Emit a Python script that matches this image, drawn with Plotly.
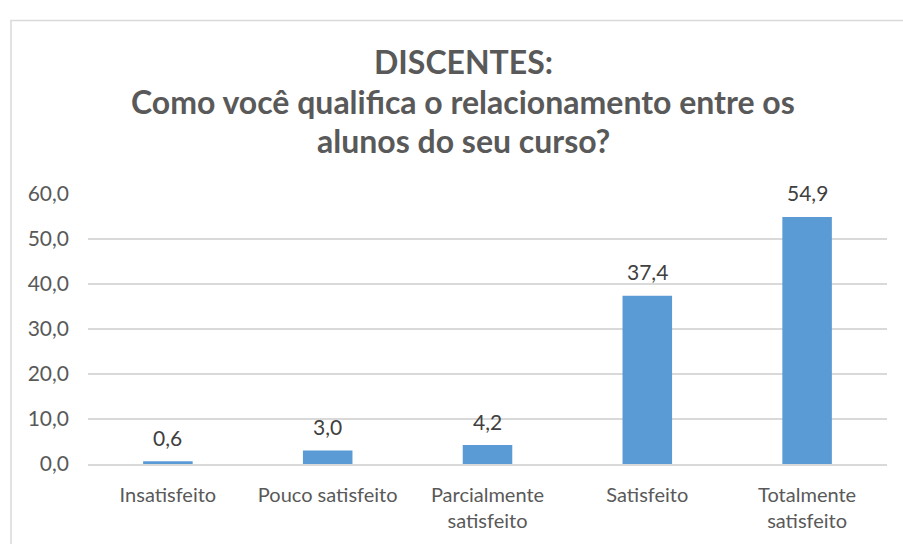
import plotly.graph_objects as go

categories = ["Insatisfeito", "Pouco satisfeito", "Parcialmente<br>satisfeito", "Satisfeito", "Totalmente<br>satisfeito"]
values = [0.6, 3.0, 4.2, 37.4, 54.9]
title_lines = ["DISCENTES:", "Como você qualifica o relacionamento entre os", "alunos do seu curso?"]
tick_vals = [0, 10, 20, 30, 40, 50, 60]

W, H = 903, 544
L, R, T, B = 88, 16, 194, 73
pw, ph = W - L - R, H - T - B

def px_x(x):
    return (x - L) / pw

def px_y(y):
    return (H - B - y) / ph

FONT = "Lato"
GRAY = "#595959"

fig = go.Figure()
fig.add_trace(go.Bar(
    x=categories, y=values,
    marker=dict(color="#5B9BD5", line=dict(width=0)),
    width=0.31,
    hoverinfo="skip",
))

for c, v in zip(categories, values):
    fig.add_annotation(
        x=c, y=v, xref="x", yref="y",
        text=f"{v:.1f}".replace(".", ","),
        showarrow=False, yanchor="middle", yshift=24,
        font=dict(family=FONT, size=21, color="#404040"),
    )

title_y = [58, 99, 139]
for t, yy in zip(title_lines, title_y):
    fig.add_annotation(
        x=px_x(463), y=px_y(yy), xref="paper", yref="paper",
        text=f"<b>{t}</b>", showarrow=False,
        xanchor="center", yanchor="middle",
        font=dict(family=FONT, size=32, color=GRAY),
    )

# chart frame
fig.add_shape(type="rect", xref="paper", yref="paper",
              x0=px_x(11), x1=px_x(960), y0=px_y(600), y1=px_y(16),
              line=dict(color="#D9D9D9", width=1.5), fillcolor="rgba(0,0,0,0)", layer="below")

fig.update_layout(
    width=W, height=H,
    margin=dict(l=L, r=R, t=T, b=B),
    paper_bgcolor="white", plot_bgcolor="white",
    showlegend=False,
    separators=",.",
    font=dict(family=FONT, color=GRAY),
    xaxis=dict(
        showgrid=False, showline=True, linecolor="#D9D9D9", linewidth=1.5,
        ticks="", tickfont=dict(family=FONT, size=20, color=GRAY),
        ticklabelstandoff=12,
        fixedrange=True,
    ),
    yaxis=dict(
        range=[0, 60], tickvals=tick_vals, tickformat=".1f",
        showgrid=True, gridcolor="#D9D9D9", gridwidth=1.5,
        zeroline=False, showline=False, ticks="",
        ticklabelstandoff=18,
        tickfont=dict(family=FONT, size=21, color=GRAY),
        fixedrange=True,
    ),
)

fig.write_html(
    "out.html",
    config={"displayModeBar": False, "staticPlot": True},
    post_script="document.body.style.margin='0';document.body.style.overflow='hidden';",
)
